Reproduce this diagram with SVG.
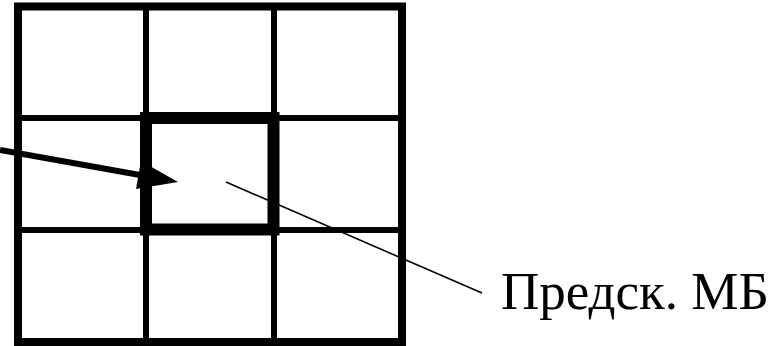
<svg xmlns="http://www.w3.org/2000/svg" width="777" height="346" viewBox="0 0 777 346">
<style>
.frame{fill:none;stroke:#000;stroke-width:8}
.grid{stroke:#000;stroke-width:6;fill:none}
.box{fill:none;stroke:#000;stroke-width:12}
.arrow{stroke:#000;stroke-width:6;fill:none}
.thin{stroke:#000;stroke-width:1.6;fill:none}
.label{font-family:"Liberation Serif","Times New Roman",serif;font-size:53px;fill:#000}
</style>
<rect width="777" height="346" fill="#fff"/>
<g id="grid">
<rect class="frame" x="18" y="6.5" width="384" height="335.5"/>
<line class="grid" x1="146" y1="6" x2="146" y2="342"/>
<line class="grid" x1="274" y1="6" x2="274" y2="342"/>
<line class="grid" x1="18" y1="118" x2="402" y2="118"/>
<line class="grid" x1="18" y1="230" x2="402" y2="230"/>
</g>
<g id="current-block">
<rect class="box" x="146" y="118" width="127.5" height="111.5"/>
</g>
<g id="connectors">
<line class="arrow" x1="0" y1="150" x2="140" y2="175"/>
<polygon points="178,182 141,161 136,189" fill="#000"/>
<line class="thin" x1="226" y1="182" x2="482" y2="293"/>
</g>
<g id="label">
<text class="label" x="501" y="309">Предск. МБ</text>
</g>
</svg>
